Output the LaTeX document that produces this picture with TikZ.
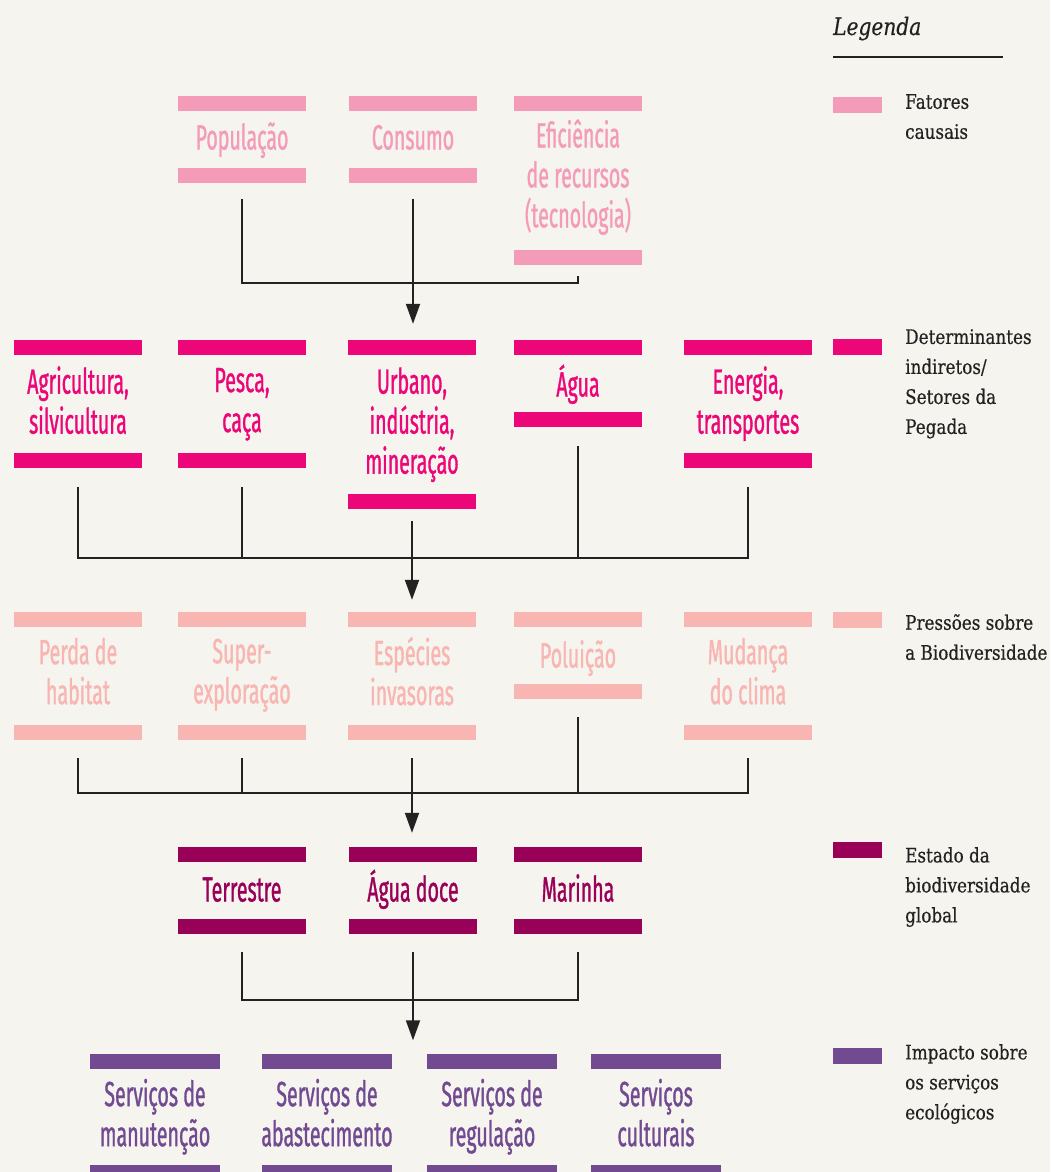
\documentclass[tikz,border=0pt]{standalone}
\usepackage{fontspec}
\newfontfamily\condfont[FakeStretch=0.56, FakeBold=0.9]{Fira Sans}
\newfontfamily\legfont[FakeStretch=0.84, FakeBold=0.5]{DejaVu Serif}
\usetikzlibrary{arrows.meta, calc, positioning}

\definecolor{paper}{HTML}{F5F4EE}
\definecolor{causal}{HTML}{F49BB9}
\definecolor{determ}{HTML}{EC0677}
\definecolor{pressao}{HTML}{F8B5B1}
\definecolor{estado}{HTML}{990057}
\definecolor{impacto}{HTML}{714A91}
\definecolor{linha}{HTML}{222222}

\newcommand{\topstrut}{\rule{0pt}{34pt}}
\newcommand{\botstrut}{\rule[-10pt]{0pt}{10pt}}

\begin{document}
\begin{tikzpicture}[
    x=1pt, y=-1pt,
    >={Triangle[width=14pt,length=20pt]},
    bar/.style={fill=#1, minimum width=128pt, minimum height=15pt, inner sep=0pt},
    lbl/.style={text=#1, align=center, inner sep=0pt,
        font=\condfont\fontsize{35}{40}\selectfont,
        execute at begin node=\topstrut, execute at end node=\botstrut},
    link/.style={draw=linha, line width=1.9pt},
    swatch/.style={fill=#1, minimum width=49pt, minimum height=16pt, inner sep=0pt},
    legtxt/.style={anchor=north west, align=left, inner sep=0pt, text=linha,
        font=\legfont\fontsize{20}{30}\selectfont,
        execute at begin node=\rule{0pt}{22pt}},
]
\useasboundingbox (0,0) rectangle (1050,1172);
\fill[paper] (0,0) rectangle (1050,1172);

% fatores causais
\foreach \nm/\x/\nl/\txt in {pop/242/1/População, con/413/1/Consumo,
    efi/578/3/{Eficiência\\de recursos\\(tecnologia)}} {
  \node[bar=causal] (\nm-t) at (\x,103.5) {};
  \node[lbl=causal] (\nm) at (\x,{101.5+36+20.5*(\nl-1)}) {\txt};
  \node[bar=causal] (\nm-b) at (\x,{103.5+72+41*(\nl-1)}) {};
}

% determinantes indiretos / setores da pegada
\foreach \nm/\x/\nl/\txt in {agr/78/2/{Agricultura,\\silvicultura},
    pes/242/2/{Pesca,\\caça}, urb/412/3/{Urbano,\\indústria,\\mineração},
    agu/578/1/Água, ene/748/2/{Energia,\\transportes}} {
  \node[bar=determ] (\nm-t) at (\x,347.5) {};
  \node[lbl=determ] (\nm) at (\x,{348.5+36+20.5*(\nl-1)}) {\txt};
  \node[bar=determ] (\nm-b) at (\x,{347.5+72+41*(\nl-1)}) {};
}

% pressoes sobre a biodiversidade
\foreach \nm/\x/\nl/\txt in {per/78/2/{Perda de\\habitat},
    sup/242/2/{Super-\\exploração}, esp/412/2/{Espécies\\invasoras},
    pol/578/1/Poluição, mud/748/2/{Mudança\\do clima}} {
  \node[bar=pressao] (\nm-t) at (\x,619.5) {};
  \node[lbl=pressao] (\nm) at (\x,{619.5+36+20.5*(\nl-1)}) {\txt};
  \node[bar=pressao] (\nm-b) at (\x,{619.5+72+41*(\nl-1)}) {};
}

% estado da biodiversidade
\foreach \nm/\x/\txt in {ter/242/Terrestre, agd/413/Água doce, mar/578/Marinha} {
  \node[bar=estado] (\nm-t) at (\x,854.5) {};
  \node[lbl=estado] (\nm) at (\x,889.5) {\txt};
  \node[bar=estado] (\nm-b) at (\x,926.5) {};
}

% impacto sobre os servicos
\foreach \nm/\x/\txt in {man/155/{Serviços de\\manutenção},
    aba/327/{Serviços de\\abastecimento}, reg/492/{Serviços de\\regulação},
    cul/656/{Serviços\\culturais}} {
  \node[bar=impacto, minimum width=130pt] (\nm-t) at (\x,1061) {};
  \node[lbl=impacto] (\nm) at (\x,1117.5) {\txt};
  \node[bar=impacto, minimum width=130pt] (\nm-b) at (\x,1172) {};
}

% ligacoes
\coordinate (j1) at (413,283);
\draw[link] ([yshift=-16pt]pop-b.south) |- (j1);
\draw[link] ([yshift=-11pt]efi-b.south) |- (j1);
\draw[link,->] ([yshift=-16pt]con-b.south) -- ($(con-b.south |- urb-t.north)+(0,-16)$);

\coordinate (j2) at (412,558);
\foreach \nm in {agr,pes,agu,ene}
  \draw[link] ([yshift=-19pt]\nm-b.south) |- (j2);
\draw[link,->] ([yshift=-12pt]urb-b.south) -- ($(urb-b.south |- esp-t.north)+(0,-12)$);

\coordinate (j3) at (412,793);
\foreach \nm in {per,sup,pol,mud}
  \draw[link] ([yshift=-18pt]\nm-b.south) |- (j3);
\draw[link,->] ([yshift=-18pt]esp-b.south) -- ($(esp-b.south |- agd-t.north)+(0,-14)$);

\coordinate (j4) at (413,1000);
\foreach \nm in {ter,mar}
  \draw[link] ([yshift=-18pt]\nm-b.south) |- (j4);
\draw[link,->] ([yshift=-18pt]agd-b.south) -- ($(agd-b.south |- man-t.north)+(0,-13)$);

% legenda
\node[anchor=base west, inner sep=0pt, text=linha,
      font=\legfont\itshape\fontsize{24}{28}\selectfont] (leg) at (833,35) {Legenda};
\draw[linha, line width=2.4pt] (833,57) -- (1003,57);
\node[swatch=causal] (sw1) at (857.5,105) {};
\node[legtxt] (lg1) at (905,94) {Fatores\\causais};
\node[swatch=determ] (sw2) at (857.5,346.5) {};
\node[legtxt] (lg2) at (905,329) {Determinantes\\indiretos/\\Setores da\\Pegada};
\node[swatch=pressao] (sw3) at (857.5,620) {};
\node[legtxt] (lg3) at (905,614) {Pressões sobre\\a Biodiversidade};
\node[swatch=estado] (sw4) at (857.5,849.5) {};
\node[legtxt] (lg4) at (905,847) {Estado da\\biodiversidade\\global};
\node[swatch=impacto] (sw5) at (857.5,1055.5) {};
\node[legtxt] (lg5) at (905,1044) {Impacto sobre\\os serviços\\ecológicos};
\end{tikzpicture}
\end{document}
